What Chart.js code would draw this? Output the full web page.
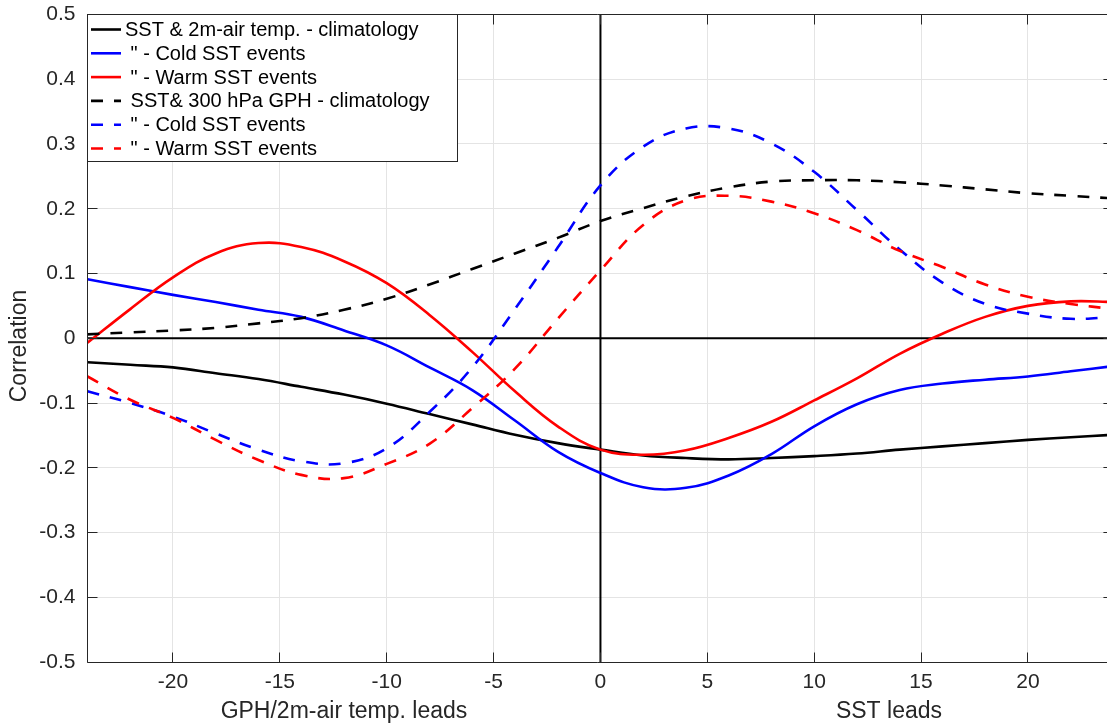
<!DOCTYPE html>
<html>
<head>
<meta charset="utf-8">
<title>Lagged correlation</title>
<script src="https://cdn.jsdelivr.net/npm/chart.js@4/dist/chart.umd.min.js"></script>
<style>
  html, body { margin: 0; padding: 0; background: #ffffff; }
  canvas { display: block; }
</style>
</head>
<body>
<canvas id="lagChart" width="1107" height="724"></canvas>
<script>
// Lag in months (negative: GPH / 2m-air temperature leads, positive: SST leads)
const leadLag = [-24, -22, -20, -18, -16, -14, -12, -10, -8, -6, -4, -2, 0,
                 2, 4, 6, 8, 10, 12, 14, 16, 18, 20, 22, 24];

// SST vs 2m-air temperature
const tempClim = [-0.037, -0.041, -0.045, -0.054, -0.063, -0.075, -0.087, -0.101, -0.117, -0.133, -0.149, -0.162, -0.172,
                  -0.181, -0.185, -0.187, -0.185, -0.182, -0.178, -0.172, -0.167, -0.162, -0.157, -0.153, -0.149];
const tempCold = [0.091, 0.079, 0.067, 0.056, 0.044, 0.033, 0.012, -0.011, -0.045, -0.080, -0.127, -0.175, -0.208,
                  -0.230, -0.231, -0.212, -0.179, -0.136, -0.102, -0.080, -0.070, -0.064, -0.059, -0.051, -0.043];
const tempWarm = [-0.007, 0.045, 0.094, 0.131, 0.147, 0.141, 0.119, 0.085, 0.036, -0.021, -0.082, -0.136, -0.172,
                  -0.180, -0.173, -0.154, -0.129, -0.096, -0.062, -0.024, 0.007, 0.033, 0.050, 0.057, 0.056];

// SST vs 300 hPa geopotential height
const gphClim = [0.006, 0.009, 0.012, 0.016, 0.023, 0.031, 0.044, 0.061, 0.083, 0.107, 0.131, 0.155, 0.181,
                 0.201, 0.219, 0.233, 0.242, 0.244, 0.244, 0.241, 0.236, 0.230, 0.224, 0.220, 0.216];
const gphCold = [-0.082, -0.100, -0.121, -0.147, -0.172, -0.190, -0.193, -0.170, -0.114, -0.045, 0.045, 0.140, 0.236,
                 0.296, 0.324, 0.324, 0.301, 0.257, 0.198, 0.137, 0.086, 0.053, 0.038, 0.030, 0.033];
const gphWarm = [-0.059, -0.095, -0.123, -0.157, -0.188, -0.211, -0.216, -0.194, -0.163, -0.108, -0.047, 0.030, 0.105,
                 0.175, 0.213, 0.220, 0.211, 0.193, 0.167, 0.135, 0.110, 0.083, 0.064, 0.053, 0.045];

const seriesLabels = [
  'SST & 2m-air temp. - climatology',
  ' " - Cold SST events',
  ' " - Warm SST events',
  ' SST& 300 hPa GPH - climatology',
  ' " - Cold SST events',
  ' " - Warm SST events'
];

const xTickValues = [-20, -15, -10, -5, 0, 5, 10, 15, 20];
const xLeadTitles = ['GPH/2m-air temp. leads', 'SST leads'];
const yAxisTitle = 'Correlation';

const FONT = '"Liberation Sans", Arial, Helvetica, sans-serif';
const INK = '#262626';
const DASH = [12, 11];

function points(values) {
  return leadLag.map((x, i) => ({ x: x, y: values[i] }));
}

function line(label, values, color, dashed, order) {
  return {
    label: label,
    data: points(values),
    borderColor: color,
    backgroundColor: color,
    borderWidth: 2.6,
    borderDash: dashed ? DASH : [],
    pointRadius: 0,
    pointHoverRadius: 0,
    fill: false,
    tension: 0.4,
    order: order
  };
}

const crisp = v => Math.floor(v) + 0.5;

// Zero lines, boxed axes with inward ticks, legend box and the two lead captions
const framePlugin = {
  id: 'frame',
  beforeDatasetsDraw(chart) {
    const { ctx, chartArea: a, scales: { x, y } } = chart;
    const x0 = x.getPixelForValue(0);
    const y0 = y.getPixelForValue(0);
    ctx.save();
    ctx.beginPath();
    ctx.rect(a.left, a.top, a.right - a.left, a.bottom - a.top);
    ctx.clip();
    ctx.strokeStyle = '#000000';
    ctx.lineWidth = 2;
    ctx.beginPath();
    ctx.moveTo(x0, a.top);
    ctx.lineTo(x0, a.bottom);
    ctx.moveTo(a.left, y0);
    ctx.lineTo(a.right, y0);
    ctx.stroke();
    ctx.restore();
  },
  afterDatasetsDraw(chart) {
    const { ctx, chartArea: a, scales: { x, y } } = chart;
    const left = crisp(a.left), top = crisp(a.top), bottom = crisp(a.bottom);
    const rightEdge = x.getPixelForValue(24);
    const tickLen = 10;

    ctx.save();
    ctx.strokeStyle = INK;
    ctx.lineWidth = 1;
    ctx.beginPath();
    // box
    ctx.moveTo(left, top);
    ctx.lineTo(left, bottom);
    ctx.lineTo(chart.width, bottom);
    ctx.moveTo(left, top);
    ctx.lineTo(chart.width, top);
    // x ticks (top and bottom, pointing inward)
    xTickValues.forEach(v => {
      const px = crisp(x.getPixelForValue(v));
      ctx.moveTo(px, bottom);
      ctx.lineTo(px, bottom - tickLen);
      ctx.moveTo(px, top);
      ctx.lineTo(px, top + tickLen);
    });
    // y ticks (left and right, pointing inward)
    y.ticks.forEach(t => {
      const py = crisp(y.getPixelForValue(t.value));
      ctx.moveTo(left, py);
      ctx.lineTo(left + tickLen, py);
      ctx.moveTo(rightEdge, py);
      ctx.lineTo(rightEdge - tickLen, py);
    });
    ctx.stroke();

    // legend
    const lx0 = left, ly0 = top, lx1 = 457.5, ly1 = 161.5;
    ctx.fillStyle = '#ffffff';
    ctx.fillRect(lx0, ly0, lx1 - lx0, ly1 - ly0);
    ctx.strokeStyle = INK;
    ctx.lineWidth = 1;
    ctx.strokeRect(lx0, ly0, lx1 - lx0, ly1 - ly0);
    ctx.font = '20px ' + FONT;
    ctx.textAlign = 'left';
    ctx.textBaseline = 'middle';
    chart.data.datasets.forEach((ds, i) => {
      const ry = 29.5 + i * 23.8;
      ctx.strokeStyle = ds.borderColor;
      ctx.lineWidth = ds.borderWidth;
      ctx.setLineDash(ds.borderDash || []);
      ctx.beginPath();
      ctx.moveTo(91, ry);
      ctx.lineTo(121, ry);
      ctx.stroke();
      ctx.setLineDash([]);
      ctx.fillStyle = '#000000';
      ctx.fillText(ds.label, 125, ry + 1);
    });

    // lead captions under the x axis
    ctx.fillStyle = INK;
    ctx.font = '23px ' + FONT;
    ctx.textAlign = 'center';
    ctx.textBaseline = 'alphabetic';
    ctx.fillText(xLeadTitles[0], x.getPixelForValue(-12), 717.5);
    ctx.fillText(xLeadTitles[1], x.getPixelForValue(13.5), 717.5);

    // y axis title
    ctx.translate(20, 346);
    ctx.rotate(-Math.PI / 2);
    ctx.textBaseline = 'middle';
    ctx.fillText(yAxisTitle, 0, 0);
    ctx.restore();
  }
};

new Chart(document.getElementById('lagChart'), {
  type: 'line',
  data: {
    datasets: [
      line(seriesLabels[0], tempClim, '#000000', false, 6),
      line(seriesLabels[1], tempCold, '#0000ff', false, 5),
      line(seriesLabels[2], tempWarm, '#ff0000', false, 4),
      line(seriesLabels[3], gphClim, '#000000', true, 3),
      line(seriesLabels[4], gphCold, '#0000ff', true, 2),
      line(seriesLabels[5], gphWarm, '#ff0000', true, 1)
    ]
  },
  options: {
    responsive: false,
    animation: false,
    devicePixelRatio: 1,
    layout: { padding: { top: 14.5, left: 0, right: 0, bottom: 0 } },
    plugins: {
      legend: { display: false },
      tooltip: { enabled: false },
      title: { display: false }
    },
    scales: {
      x: {
        type: 'linear',
        min: -24,
        max: 23.7,
        afterBuildTicks: scale => { scale.ticks = xTickValues.map(v => ({ value: v })); },
        afterFit: scale => { scale.height = 62; scale.paddingLeft = 0; scale.paddingRight = 0; },
        border: { display: false },
        grid: { color: '#e4e4e4', lineWidth: 1, drawTicks: false },
        ticks: {
          padding: 8,
          color: INK,
          font: { family: FONT, size: 21 },
          maxRotation: 0,
          callback: v => String(v)
        }
      },
      y: {
        type: 'linear',
        min: -0.5,
        max: 0.5,
        afterFit: scale => { scale.width = 87.5; scale.paddingTop = 0; scale.paddingBottom = 0; },
        border: { display: false },
        grid: { color: '#e4e4e4', lineWidth: 1, drawTicks: false },
        ticks: {
          stepSize: 0.1,
          padding: 12,
          color: INK,
          font: { family: FONT, size: 21 },
          callback: v => {
            const r = Math.round(v * 10) / 10;
            return r === 0 ? '0' : r.toFixed(1);
          }
        }
      }
    }
  },
  plugins: [framePlugin]
});
</script>
</body>
</html>
